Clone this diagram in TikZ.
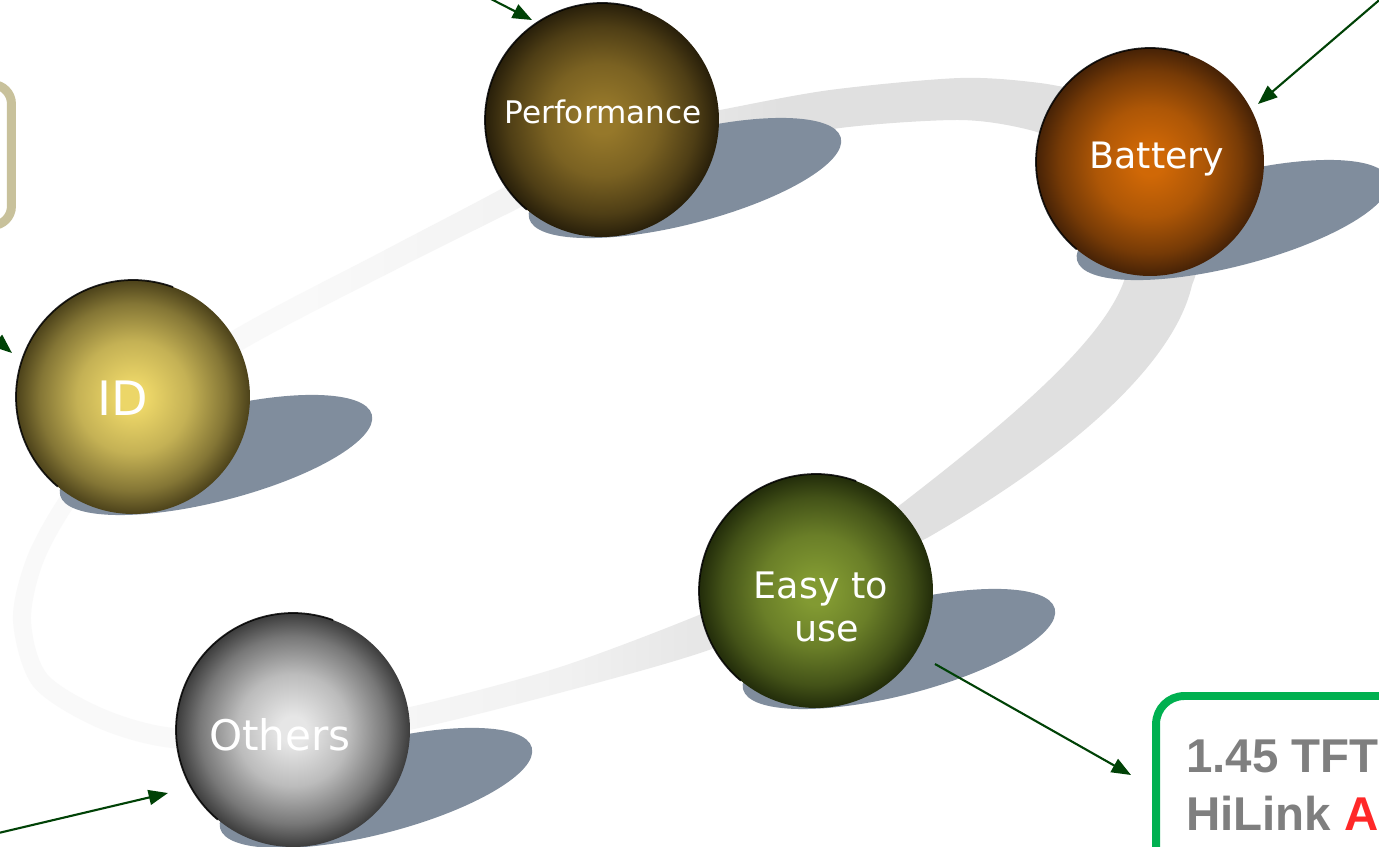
\documentclass[tikz,border=0pt]{standalone}
\usepackage{fontspec}
\setmainfont{DejaVu Sans}
\newfontfamily\arialfont{Liberation Sans}
\usetikzlibrary{arrows.meta,calc}

\definecolor{perfin}{RGB}{150,120,42}
\definecolor{perfout}{RGB}{40,31,10}
\definecolor{batin}{RGB}{208,104,6}
\definecolor{batout}{RGB}{70,34,6}
\definecolor{idin}{RGB}{236,214,104}
\definecolor{idout}{RGB}{76,66,26}
\definecolor{othin}{RGB}{230,230,230}
\definecolor{othout}{RGB}{60,60,60}
\definecolor{easyin}{RGB}{130,154,50}
\definecolor{easyout}{RGB}{34,44,10}
\definecolor{shadowc}{RGB}{128,141,157}
\definecolor{arrowc}{RGB}{0,66,6}
\definecolor{khaki}{RGB}{200,193,155}
\definecolor{boxgreen}{RGB}{0,176,80}
\definecolor{txtgray}{RGB}{127,127,127}
\definecolor{txtred}{RGB}{255,40,40}
\definecolor{trA}{RGB}{249,249,249}
\definecolor{trB}{RGB}{241,241,241}
\definecolor{trC}{RGB}{224,224,224}

\newcommand\mkshade[3]{%
  \colorlet{#1A}{#2}\colorlet{#1B}{#2!75!#3}\colorlet{#1C}{#2!35!#3}\colorlet{#1D}{#3}%
  \pgfdeclareradialshading{#1}{\pgfpointorigin}{color(0bp)=(#1A); color(3bp)=(#1A); color(12bp)=(#1B); color(20bp)=(#1C); color(25bp)=(#1D); color(50bp)=(#1D)}}
\mkshade{shPerf}{perfin}{perfout}
\mkshade{shBat}{batin}{batout}
\mkshade{shId}{idin}{idout}
\mkshade{shOth}{othin}{othout}
\mkshade{shEasy}{easyin}{easyout}
\pgfdeclarehorizontalshading{trackshade}{100bp}{color(0bp)=(trA); color(37bp)=(trA); color(48bp)=(trB); color(57bp)=(trC); color(100bp)=(trC)}

\begin{document}
\begin{tikzpicture}[x=0.02cm,y=-0.02cm,
  sphere/.style={circle, minimum size=4.68cm, inner sep=0pt, outer sep=0pt, shade},
  shadowfill/.style={fill=shadowc},
  rim/.style={draw=black, line width=1pt, opacity=0.85},
  lbl/.style={text=white, inner sep=0pt, anchor=base},
  arr/.style={draw=arrowc, line width=1.2pt, -{Triangle[length=11pt,width=8.5pt]}},
]
\useasboundingbox (0,0) rectangle (1379,846);
\clip (0,0) rectangle (1379,846);
\fill[white] (0,0) rectangle (1379,846);

% orbit track (outer edge and inner edge, filled between)
\shade[shading=trackshade, even odd rule]
  plot[smooth] coordinates {(880,560) (809,607) (706,651) (563,692) (414,729) (291,748) (172,748) (96,727) (33,686) (13,620) (27,557) (61,495) (123,413) (227,334) (385,250) (501,189) (595,135) (720,110) (830,90) (960,78) (1040,83) (1100,95)}
    .. controls (1200,115) and (1215,230) .. (1192,285)
    .. controls (1175,360) and (1080,450) .. (927,538) -- cycle
  plot[smooth] coordinates {(860,540) (791,573) (694,617) (557,668) (410,707) (289,728) (174,728) (104,709) (47,674) (31,620) (43,563) (75,505) (137,427) (239,352) (395,270) (513,211) (605,165) (726,150) (840,128) (960,120) (1030,130) (1080,150)}
    .. controls (1120,175) and (1135,230) .. (1125,278)
    .. controls (1105,340) and (1010,420) .. (900,505) -- cycle;

% sphere centres
\coordinate (perfc) at (602,120);
\coordinate (batc) at (1150,162);
\coordinate (idc) at (133,397);
\coordinate (othc) at (293,730);
\coordinate (easyc) at (816,591);

% shadows
\foreach \c in {perfc,batc,idc,othc,easyc}{
  \coordinate (s) at ($(\c)+(83,58)$);
  \fill[shadowfill, rotate around={14.5:(s)}] (s) ellipse [x radius=161, y radius=46];
}

% spheres
\node[sphere, shading=shPerf] (perf) at (perfc) {};
\node[sphere, shading=shBat, minimum size=4.56cm] (bat) at (batc) {};
\node[sphere, shading=shId] (id) at (idc) {};
\node[sphere, shading=shOth] (oth) at (othc) {};
\node[sphere, shading=shEasy] (easy) at (easyc) {};
\draw[rim] (perf.70) arc[start angle=70, end angle=230, radius=2.34cm];
\draw[rim] (bat.70) arc[start angle=70, end angle=230, radius=2.28cm];
\draw[rim] (id.70) arc[start angle=70, end angle=230, radius=2.34cm];
\draw[rim] (oth.70) arc[start angle=70, end angle=230, radius=2.34cm];
\draw[rim] (easy.70) arc[start angle=70, end angle=230, radius=2.34cm];

% labels
\node[lbl, font=\fontsize{17.7}{21}\selectfont] (perfl) at (603,123) {Performance};
\node[lbl, font=\fontsize{20.7}{25}\selectfont] (batl) at (1157,168) {Battery};
\node[lbl, font=\fontsize{27}{32}\selectfont] (idl) at (123,415) {ID};
\node[lbl, font=\fontsize{24}{28}\selectfont] (othl) at (280,750) {Others};
\node[lbl, font=\fontsize{20.8}{25}\selectfont] (easyl1) at (821,598) {Easy to};
\node[lbl, font=\fontsize{20.8}{25}\selectfont] (easyl2) at (827,641) {use};

% arrows
\coordinate (a1s) at (454,-20);  \coordinate (a1e) at (532,20);
\coordinate (a2s) at (1391,-10); \coordinate (a2e) at (1258,104);
\coordinate (a3s) at (-25,322);  \coordinate (a3e) at (12,353);
\coordinate (a4s) at (-10,835);  \coordinate (a4e) at (168,793);
\coordinate (a5s) at (935,664);  \coordinate (a5e) at (1131,775);
\draw[arr] (a1s) -- (a1e);
\draw[arr] (a2s) -- (a2e);
\draw[arr] (a3s) -- (a3e);
\draw[arr] (a4s) -- (a4e);
\draw[arr] (a5s) -- (a5e);

% boxes
\node[draw=khaki, fill=white, line width=5.1pt, rounded corners=11pt, minimum width=4.22cm, minimum height=2.82cm, inner sep=0pt, outer sep=0pt] (tlbox) at (-94,155) {};
\node[draw=boxgreen, fill=white, line width=4.5pt, rounded corners=16pt, minimum width=8.88cm, minimum height=6.08cm, inner sep=0pt, outer sep=0pt] (brbox) at (1378,848) {};
\node[anchor=base west, inner sep=0pt, text=txtgray, font=\arialfont\bfseries\fontsize{27}{31}\selectfont] (t1) at (1186,772) {1.45 TFT};
\node[anchor=base west, inner sep=0pt, text=txtgray, font=\arialfont\bfseries\fontsize{27}{31}\selectfont] (t2) at (1186,830) {HiLink \textcolor{txtred}{A}};
\end{tikzpicture}
\end{document}
